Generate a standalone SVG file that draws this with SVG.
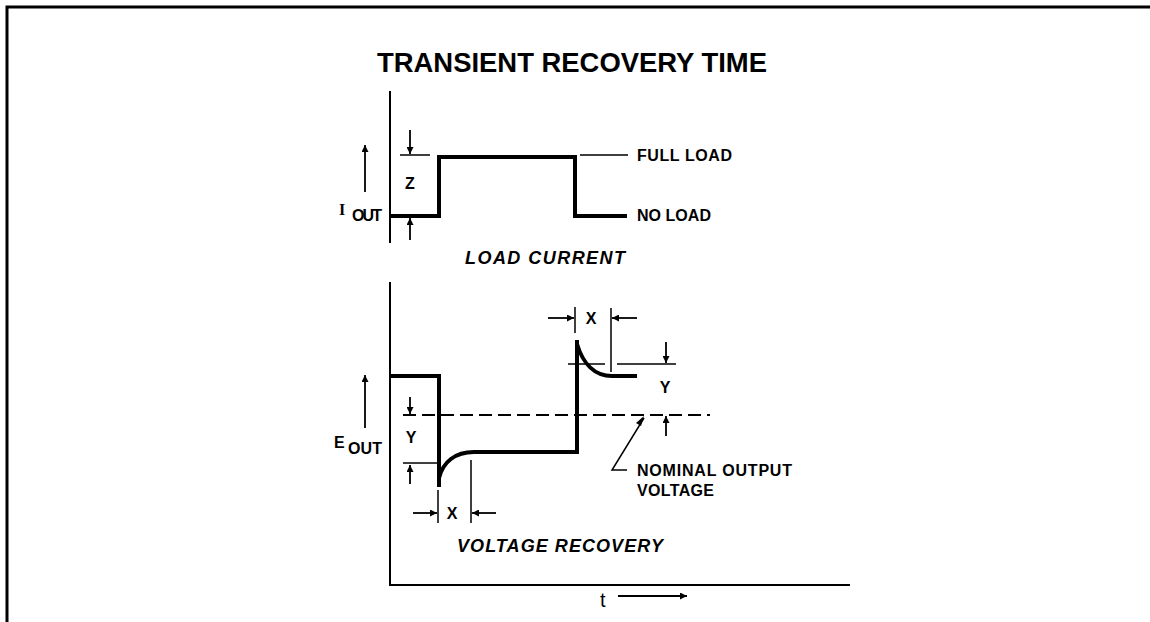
<svg xmlns="http://www.w3.org/2000/svg" width="1150" height="622" viewBox="0 0 1150 622">
<defs>
<marker id="ah" viewBox="0 0 10 10" refX="10" refY="5" markerWidth="8" markerHeight="7" markerUnits="userSpaceOnUse" orient="auto">
<path d="M0,0 L10,5 L0,10 z" fill="#000"/>
</marker>
</defs>
<style>
.frame{fill:none;stroke:#000;stroke-width:3}
.axis{fill:none;stroke:#000;stroke-width:2}
.wave{fill:none;stroke:#000;stroke-width:4;stroke-linejoin:miter}
.thin{fill:none;stroke:#000;stroke-width:1.5}
.dash{fill:none;stroke:#000;stroke-width:1.8;stroke-dasharray:13 6}
.arr{fill:none;stroke:#000;stroke-width:1.8;marker-end:url(#ah)}
.lbl{font-family:"Liberation Sans",Arial,sans-serif;font-weight:bold;font-size:16px;fill:#000}
.cap{font-family:"Liberation Sans",Arial,sans-serif;font-weight:bold;font-style:italic;font-size:18px;fill:#000}
.title{font-family:"Liberation Sans",Arial,sans-serif;font-weight:bold;font-size:27px;fill:#000}
</style>
<rect width="1150" height="622" fill="#fff"/>
<path class="frame" d="M7,622 V7 H1150"/>
<text class="title" x="377" y="72" textLength="390" lengthAdjust="spacingAndGlyphs">TRANSIENT RECOVERY TIME</text>

<g id="load-current">
<path class="axis" d="M390,91 V243"/>
<path class="wave" d="M390,216 H439 V157 H575 V216 H627"/>
<path class="thin" d="M400,155 H430 M580,155 H628"/>
<path class="arr" d="M410,130 V154"/>
<path class="arr" d="M410,240 V218"/>
<text class="lbl" x="410" y="189" text-anchor="middle" font-size="15">Z</text>
<path class="arr" d="M365,192 V145"/>
<text x="339" y="215" font-family="'Liberation Serif',serif" font-size="16" font-weight="bold">I</text>
<text class="lbl" x="352" y="221" font-size="14" textLength="30">OUT</text>
<text class="lbl" x="637" y="161" textLength="95">FULL LOAD</text>
<text class="lbl" x="637" y="221" textLength="74">NO LOAD</text>
<text class="cap" x="465" y="264" textLength="160">LOAD  CURRENT</text>
</g>

<g id="voltage-recovery">
<path class="axis" d="M390,282 V585 H850"/>
<path class="dash" d="M403,415 H710"/>
<path class="wave" d="M390,376 H439 V487 M439,478 C443,462 455,452 474,452 H577 V340 M577,344 C583,364 595,376 612,376 H637"/>
<path class="arr" d="M365,428 V375"/>
<text class="lbl" x="334" y="448" font-size="15">E</text>
<text class="lbl" x="348" y="454" font-size="14" textLength="34">OUT</text>
<path class="arr" d="M410,397 V414"/>
<path class="thin" d="M403,463 H438"/>
<path class="arr" d="M410,484 V465"/>
<text class="lbl" x="411" y="443" text-anchor="middle" font-size="15">Y</text>
<path class="thin" d="M438,490 V523 M471,460 V523"/>
<path class="arr" d="M413,513 H437"/>
<path class="arr" d="M496,513 H472"/>
<text class="lbl" x="452" y="519" text-anchor="middle" font-size="15">X</text>
<path class="thin" d="M575,307 V333 M611,308 V372 M568,364 H605 M617,364 H676"/>
<path class="arr" d="M548,318 H574"/>
<path class="arr" d="M637,318 H612"/>
<text class="lbl" x="591" y="324" text-anchor="middle" font-size="15">X</text>
<path class="arr" d="M666,342 V363"/>
<path class="arr" d="M666,436 V416"/>
<text class="lbl" x="665" y="393" text-anchor="middle" font-size="15">Y</text>
<path class="thin" d="M627,470 H612 L644,418"/>
<path d="M644,416 L636,423 L641,426 z" fill="#000"/>
<text class="lbl" x="637" y="476" textLength="155">NOMINAL  OUTPUT</text>
<text class="lbl" x="637" y="496" textLength="77">VOLTAGE</text>
<text class="cap" x="457" y="552" font-size="19" textLength="206">VOLTAGE RECOVERY</text>
<text x="600" y="607" font-family="'Liberation Sans',Arial,sans-serif" font-size="20">t</text>
<path class="arr" d="M618,596 H687"/>
</g>
</svg>
